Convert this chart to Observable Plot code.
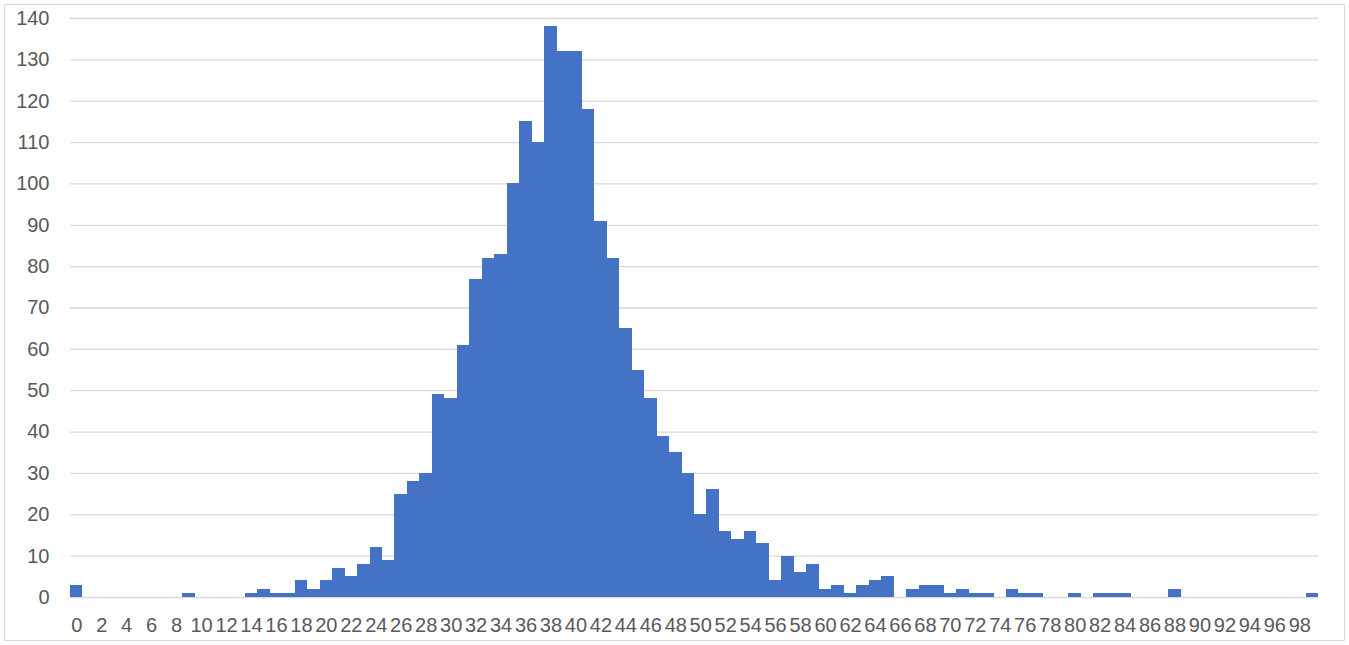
<!DOCTYPE html>
<html>
<head>
<meta charset="utf-8">
<script src="https://cdn.jsdelivr.net/npm/d3@7"></script>
<script src="https://cdn.jsdelivr.net/npm/@observablehq/plot@0.6"></script>
<style>
  html, body { margin: 0; padding: 0; background: #fff; }
  #wrap { position: relative; width: 1349px; height: 645px; overflow: hidden; }
  #frame { position: absolute; left: 4px; top: 4px; width: 1339px; height: 635px; border: 1px solid #d9d9d9; }
  #chart { position: absolute; left: 0; top: 0; }
</style>
</head>
<body>
<div id="wrap"><div id="frame"></div><div id="chart"></div></div>
<script>
const bins = [
  0,1,2,3,4,5,6,7,8,9,10,11,12,13,14,15,16,17,18,19,
  20,21,22,23,24,25,26,27,28,29,30,31,32,33,34,35,36,37,38,39,
  40,41,42,43,44,45,46,47,48,49,50,51,52,53,54,55,56,57,58,59,
  60,61,62,63,64,65,66,67,68,69,70,71,72,73,74,75,76,77,78,79,
  80,81,82,83,84,85,86,87,88,89,90,91,92,93,94,95,96,97,98,99
];
const counts = [
  3,0,0,0,0,0,0,0,0,1,0,0,0,0,1,2,1,1,4,2,
  4,7,5,8,12,9,25,28,30,49,48,61,77,82,83,100,115,110,138,132,
  132,118,91,82,65,55,48,39,35,30,20,26,16,14,16,13,4,10,6,8,
  2,3,1,3,4,5,0,2,3,3,1,2,1,1,0,2,1,1,0,0,
  1,0,1,1,1,0,0,0,2,0,0,0,0,0,0,0,0,0,0,1
];
const xTicks = [0,2,4,6,8,10,12,14,16,18,20,22,24,26,28,30,32,34,36,38,40,42,44,46,48,
  50,52,54,56,58,60,62,64,66,68,70,72,74,76,78,80,82,84,86,88,90,92,94,96,98];
const yTicks = [0,10,20,30,40,50,60,70,80,90,100,110,120,130,140];

const data = bins.map((b, i) => ({bin: b, count: counts[i]}));

const chart = Plot.plot({
  width: 1349,
  height: 645,
  marginLeft: 70,
  marginRight: 31,
  marginTop: 18,
  marginBottom: 48,
  style: {fontFamily: "'Liberation Sans', Arial, sans-serif", fontSize: "20px", color: "#595959", background: "transparent"},
  x: {domain: bins, padding: 0, ticks: xTicks, tickSize: 0, tickPadding: 20, label: null},
  y: {domain: [0, 140], ticks: yTicks, tickSize: 0, tickPadding: 21, label: null},
  marks: [
    Plot.gridY(yTicks, {stroke: "#d9d9d9", strokeOpacity: 1, strokeWidth: 1.3}),
    Plot.barY(data, {x: "bin", y: "count", fill: "#4472c4", shapeRendering: "crispEdges"}),
    Plot.axisX({ticks: xTicks, tickSize: 0, tickPadding: 20, fill: "#595959", fontSize: 20}),
    Plot.axisY({ticks: yTicks, tickSize: 0, tickPadding: 21, fill: "#595959", fontSize: 20})
  ]
});
document.getElementById("chart").appendChild(chart);
</script>
</body>
</html>
